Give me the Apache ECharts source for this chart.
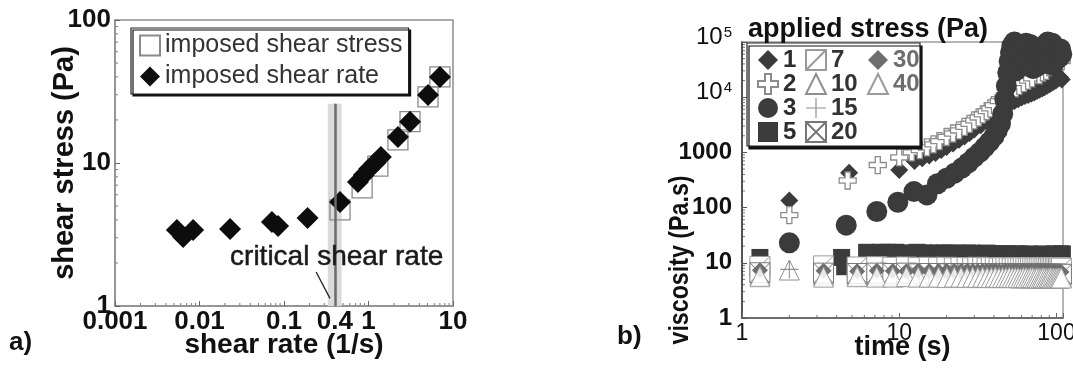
<!DOCTYPE html>
<html>
<head>
<meta charset="utf-8">
<script src="https://cdn.jsdelivr.net/npm/echarts@6/dist/echarts.min.js"></script>
<style>
  html, body { margin: 0; padding: 0; background: #fff; }
  #c { width: 1073px; height: 370px; }
</style>
</head>
<body>
<div id="c"></div>
<script>
// ---------- a) flow curve: shear stress vs shear rate ----------
const rateImposedX = [0.0054, 0.0064, 0.0084, 0.023, 0.072, 0.085, 0.19, 0.46, 0.75, 0.88, 1.02, 1.2, 1.4, 2.23, 3.1, 5.06, 7.0];
const rateImposedY = [3.4, 3.04, 3.4, 3.45, 3.87, 3.63, 4.12, 5.34, 7.37, 8.25, 9.1, 10.0, 11.0, 15.2, 19.4, 29.9, 39.9];
const stressImposedX = [0.46, 0.84, 1.29, 2.23, 3.1, 5.06, 7.0];
const stressImposedY = [4.7, 6.7, 9.5, 14.5, 19.5, 29, 40];
const criticalRate = 0.4;
const criticalBand = [0.33, 0.48];
const criticalTop = 26;
const rateTicks = ['0.001', '0.01', '0.1', '1', '10'];
const stressTicks = ['1', '10', '100'];

// ---------- b) viscosity vs time at applied stress ----------
const t1 = [2, 4.8, 10, 12.5, 14, 15.5, 17, 18.5, 20, 22, 24, 26, 28, 30, 33, 36, 39, 42, 45, 48, 51, 54, 57, 60, 63, 66, 69, 72, 75, 78, 81, 84, 87, 90, 93, 96, 99, 102, 105, 108];
const eta1 = [135, 430, 480, 700, 780, 880, 980, 1100, 1250, 1450, 1700, 1950, 2250, 2600, 3100, 3700, 4400, 5200, 6100, 7000, 7800, 8500, 9200, 9900, 10500, 11000, 11600, 12200, 12900, 13600, 14400, 15200, 16100, 17000, 18000, 19000, 20000, 21500, 23000, 21000];

const t2 = [2, 4.7, 7.3, 10, 12, 13.5, 15, 16.5, 18, 20, 22, 24, 26, 28, 30, 32, 34, 36, 38, 40, 43, 46, 49, 52, 55, 58, 62, 66, 70, 74, 78, 82, 86, 90, 95, 100, 104, 108];
const eta2 = [73, 310, 590, 810, 1000, 1100, 1230, 1400, 1600, 1900, 2200, 2500, 2900, 3300, 3800, 4300, 4900, 5600, 6300, 7200, 8500, 10000, 11500, 13000, 14500, 16000, 18000, 20000, 22000, 110000, 25000, 28000, 30000, 35000, 40000, 50000, 57000, 45000];

const t3 = [2, 4.6, 7.2, 9.8, 12.4, 15, 17.5, 20, 22.5, 25, 27.5, 30, 32.5, 35, 37.5, 40, 42, 44, 45.5, 47, 48, 49, 50, 51, 52, 54, 56, 58, 60, 62, 64, 66, 68, 70, 72, 74, 76, 78, 80, 82, 85, 88, 91, 94, 97, 100, 103, 106,
  55, 58, 62, 66, 71, 75, 80, 85, 90, 95, 100, 104, 108];
const eta3 = [23, 48, 85, 125, 195, 170, 270, 340, 420, 520, 650, 820, 1000, 1250, 1550, 1950, 2500, 3300, 5000, 9000, 16000, 28000, 45000, 65000, 85000, 100000, 90000, 75000, 60000, 80000, 95000, 105000, 90000, 75000, 65000, 55000, 48000, 52000, 60000, 75000, 90000, 100000, 110000, 95000, 80000, 70000, 60000, 75000,
  30000, 36000, 42000, 38000, 33000, 36000, 42000, 46000, 40000, 38000, 48000, 52000, 60000];

const t5 = [1.3, 4.3, 4.5, 6.2, 6.8, 7.6, 8.5, 9.5, 10.5, 11.7, 13, 14.4, 16, 17.6, 19.3, 21, 23, 25, 27, 29, 31, 33.5, 36, 38.5, 41, 43.5, 46, 49, 52, 55, 58, 61, 64, 67, 70, 73, 76, 79, 82, 85, 88, 91, 94, 97, 100, 103, 106, 109];
const eta5 = [12.5, 12.5, 8.5, 15.5, 10.5, 15.5, 15.5, 15.5, 15, 15, 15.5, 15, 15, 15, 15, 15, 15, 14.5, 15, 15, 14.5, 14.5, 15, 14.5, 14.5, 14.5, 14.5, 14.5, 14, 14.5, 14.5, 14, 14, 14.5, 14, 14, 14, 14, 14.5, 14, 14, 14, 14, 14.5, 14, 14, 14.5, 14.5];

const tFlat = [1.3, 3.3, 5.4, 7.2, 9.1, 11.1, 13.2, 15.5, 17.8, 20.1, 22.4, 24.7, 27, 29.3, 31.6, 33.9, 36.2, 38.5, 40.8, 43.1, 45.4, 47.7, 50, 52.3, 54.6, 56.9, 59.2, 61.5, 63.8, 66.1, 68.4, 70.7, 73, 75.3, 77.6, 79.9, 82.2, 84.5, 86.8, 89.1, 91.4, 93.7, 96, 98.3, 100.6, 102.9, 105.2, 107.5];
const tFlatB = [1.3, 2, 3.3, 5.4, 7.2, 9.1, 11.1, 13.2, 15.5, 17.8, 20.1, 22.4, 24.7, 27, 29.3, 31.6, 33.9, 36.2, 38.5, 40.8, 43.1, 45.4, 47.7, 50, 52.3, 54.6, 56.9, 59.2, 61.5, 63.8, 66.1, 68.4, 70.7, 73, 75.3, 77.6, 79.9, 82.2, 84.5, 86.8, 89.1, 91.4, 93.7, 96, 98.3, 100.6, 102.9, 105.2, 107.5];
const eta7 = [8.6, 8.8, 8.4, 8.5, 8.3, 8.4, 8.2, 8.3, 8.2, 8.3, 8.1, 8.2, 8.2, 8.1, 8.3, 8.2, 8.1, 8.2, 8.2, 8.0, 8.1, 8.2, 8.1, 8.0, 8.1, 8.1, 8.0, 8.2, 8.1, 8.0, 8.1, 8.1, 8.0, 8.1, 8.0, 8.2, 8.1, 8.0, 8.1, 8.0, 8.1, 8.0, 8.1, 8.0, 8.1, 8.0, 8.1, 8.0];
const eta10 = [5.9, 7.4, 6.0, 5.8, 5.9, 5.8, 5.8, 5.9, 5.8, 5.7, 5.8, 5.8, 5.7, 5.8, 5.7, 5.8, 5.7, 5.7, 5.8, 5.7, 5.7, 5.8, 5.7, 5.7, 5.6, 5.7, 5.7, 5.6, 5.7, 5.7, 5.6, 5.7, 5.6, 5.7, 5.6, 5.6, 5.7, 5.6, 5.6, 5.7, 5.6, 5.6, 5.6, 5.7, 5.6, 5.6, 5.6, 5.6, 5.5];
const eta15 = [6.6, 7.6, 6.6, 6.5, 6.6, 6.5, 6.5, 6.4, 6.5, 6.5, 6.4, 6.5, 6.4, 6.4, 6.5, 6.4, 6.4, 6.4, 6.3, 6.4, 6.4, 6.3, 6.4, 6.3, 6.3, 6.4, 6.3, 6.3, 6.3, 6.4, 6.3, 6.3, 6.2, 6.3, 6.3, 6.2, 6.3, 6.3, 6.2, 6.3, 6.2, 6.2, 6.3, 6.2, 6.2, 6.2, 6.3, 6.2, 6.2];
const eta20 = [6.6, 6.5, 6.4, 6.5, 6.4, 6.5, 6.3, 6.4, 6.4, 6.3, 6.4, 6.4, 6.3, 6.4, 6.3, 6.3, 6.4, 6.3, 6.3, 6.3, 6.2, 6.3, 6.3, 6.2, 6.3, 6.2, 6.3, 6.2, 6.2, 6.3, 6.2, 6.2, 6.2, 6.3, 6.2, 6.2, 6.2, 6.1, 6.2, 6.2, 6.2, 6.1, 6.2, 6.2, 6.1, 6.2, 6.1, 6.2];
const eta30 = [7.3, 7.2, 7.0, 7.2, 7.1, 7.0, 7.2, 7.1, 7.0, 7.1, 7.1, 7.0, 7.1, 7.0, 7.0, 7.1, 7.0, 7.0, 7.1, 7.0, 6.9, 7.0, 7.0, 6.9, 7.0, 7.0, 6.9, 7.0, 6.9, 6.9, 7.0, 6.9, 6.9, 7.0, 6.9, 6.9, 6.9, 7.0, 6.9, 6.9, 6.9, 6.8, 6.9, 6.9, 6.8, 6.9, 6.9, 6.8];
const eta40 = [5.6, 5.5, 5.6, 5.5, 5.5, 5.6, 5.5, 5.5, 5.5, 5.4, 5.5, 5.5, 5.4, 5.5, 5.4, 5.5, 5.4, 5.4, 5.5, 5.4, 5.4, 5.4, 5.5, 5.4, 5.4, 5.4, 5.3, 5.4, 5.4, 5.3, 5.4, 5.4, 5.3, 5.4, 5.3, 5.3, 5.4, 5.3, 5.3, 5.3, 5.4, 5.3, 5.3, 5.3, 5.3, 5.3, 5.3, 5.3];
const timeTicks = ['1', '10', '100'];
const viscosityTicks = ['1', '10', '100', '1000', '10^4', '10^5'];

// ---------- drawing ----------
const FONT = "'Liberation Sans', Arial, Helvetica, sans-serif";
const DARK = '#3b3b3b';
const OPEN = '#8c8c8c';

const SYM_CROSS = 'path://M7,0H13V7H20V13H13V20H7V13H0V7H7Z';
const SYM_PLUS = 'path://M9.4,0H10.6V9.4H20V10.6H10.6V20H9.4V10.6H0V9.4H9.4Z';
const SYM_BOX_DIAG = 'path://M0,0H20V20H0Z M0,20L20,0';
const SYM_BOX_X = 'path://M0,0H20V20H0Z M0,0L20,20 M20,0L0,20';

const zip = (xs, ys) => xs.map((x, i) => [x, ys[i]]).filter(p => p[1] != null);
const isDecade = v => Math.abs(Math.log10(v) - Math.round(Math.log10(v))) < 1e-6;

function pickTick(list, v, base) {
  if (!isDecade(v)) return '';
  const i = Math.round(Math.log10(v)) - base;
  return list[i] != null ? list[i] : '';
}

const chart = echarts.init(document.getElementById('c'), null, { renderer: 'canvas' });

const boldText = (size, color) => ({ fontSize: size, fontWeight: 'bold', color: color || '#111', fontFamily: FONT });

function scatterB(name, times, etas, symbol, size, fill, stroke, width) {
  return {
    name, type: 'scatter', xAxisIndex: 1, yAxisIndex: 1,
    data: zip(times, etas), symbol, symbolSize: size,
    itemStyle: { color: fill, borderColor: stroke, borderWidth: width, opacity: 1 },
    emphasis: { disabled: true }
  };
}

const option = {
  animation: false,
  backgroundColor: '#fff',
  textStyle: { fontFamily: FONT },
  grid: [
    { left: 115, top: 20, width: 338, height: 286, show: true, borderColor: '#8f8f8f', borderWidth: 1.5, outerBoundsMode: 'none', containLabel: false },
    { left: 742, top: 42, width: 321, height: 276, show: true, borderColor: '#9f9f9f', borderWidth: 1.5, outerBoundsMode: 'none', containLabel: false }
  ],
  xAxis: [
    {
      type: 'log', logBase: 10, gridIndex: 0, min: 0.001, max: 10, splitNumber: 4,
      axisLine: { lineStyle: { color: '#8f8f8f', width: 1.5 } },
      axisTick: { inside: true, length: 5, lineStyle: { color: '#666' } },
      splitLine: { show: false },
      axisLabel: { ...boldText(26), margin: 3, formatter: v => pickTick(rateTicks, v, -3) },
      name: 'shear rate (1/s)', nameLocation: 'middle', nameGap: 25, nameMoveOverlap: false, nameTextStyle: boldText(28)
    },
    {
      type: 'log', logBase: 10, gridIndex: 1, min: 1, max: 110, splitNumber: 2,
      axisLine: { lineStyle: { color: '#555', width: 1.5 } },
      axisTick: { inside: true, length: 5, lineStyle: { color: '#666' } },
      splitLine: { show: false },
      axisLabel: { ...boldText(23), fontWeight: 'normal', margin: 4, formatter: v => pickTick(timeTicks, v, 0) },
      name: 'time (s)', nameLocation: 'middle', nameGap: 16, nameMoveOverlap: false, nameTextStyle: boldText(27)
    }
  ],
  yAxis: [
    {
      type: 'log', logBase: 10, gridIndex: 0, min: 1, max: 100, splitNumber: 2,
      axisLine: { lineStyle: { color: '#8f8f8f', width: 1.5 } },
      axisTick: { inside: true, length: 5, lineStyle: { color: '#666' } },
      splitLine: { show: false },
      axisLabel: { ...boldText(26), margin: 4, formatter: v => pickTick(stressTicks, v, 0) },
      name: 'shear stress (Pa)', nameLocation: 'middle', nameGap: 36, nameRotate: 90, nameMoveOverlap: false, nameTextStyle: boldText(29)
    },
    {
      type: 'log', logBase: 10, gridIndex: 1, min: 1, max: 100000, splitNumber: 5,
      axisLine: { lineStyle: { color: '#333', width: 1.5 } },
      axisTick: { inside: true, length: 5, lineStyle: { color: '#555' } },
      splitLine: { show: false },
      axisLabel: {
        ...boldText(24), margin: 10,
        formatter: v => {
          const s = pickTick(viscosityTicks, v, 0);
          if (s.indexOf('^') > 0) {
            const [b, e] = s.split('^');
            return '{n|' + b + '}{e|' + e + '}';
          }
          return s;
        },
        rich: {
          n: { ...boldText(24), fontWeight: 'normal', padding: [0, 0, 10, 0] },
          e: { ...boldText(15), fontWeight: 'normal', verticalAlign: 'top', padding: [0, 0, 14, 1] }
        }
      }
    }
  ],
  legend: [
    {
      data: ['imposed shear stress', 'imposed shear rate'],
      orient: 'vertical', left: 131, top: 28, padding: [5, 6, 5, 8], itemGap: 6,
      itemWidth: 20, itemHeight: 20,
      backgroundColor: '#fff', borderColor: '#222', borderWidth: 1.2,
      shadowColor: '#111', shadowBlur: 0, shadowOffsetX: 2, shadowOffsetY: 2,
      textStyle: { fontSize: 25, color: '#333', fontFamily: FONT, lineHeight: 24 },
      selectedMode: false, z: 6
    },
    {
      data: ['1', '2', '3', '5'].map(n => ({ name: n })),
      orient: 'vertical', left: 752, top: 43, itemGap: 0, itemWidth: 20, itemHeight: 20,
      textStyle: { ...boldText(24, '#2e2e2e'), lineHeight: 20 },
      selectedMode: false, z: 6
    },
    {
      data: ['7', '10', '15', '20'].map(n => ({ name: n })),
      orient: 'vertical', left: 800, top: 43, itemGap: 0, itemWidth: 20, itemHeight: 20,
      textStyle: { ...boldText(24, '#333'), lineHeight: 20 },
      selectedMode: false, z: 6
    },
    {
      data: ['30', '40'].map(n => ({ name: n })),
      orient: 'vertical', left: 862, top: 43, itemGap: 0, itemWidth: 20, itemHeight: 20,
      textStyle: { ...boldText(24, '#6e6e6e'), lineHeight: 20 },
      selectedMode: false, z: 6
    }
  ],
  series: [
    {
      name: 'imposed shear stress', type: 'scatter', xAxisIndex: 0, yAxisIndex: 0,
      data: zip(stressImposedX, stressImposedY), symbol: 'rect', symbolSize: 20,
      itemStyle: { color: 'rgba(255,255,255,0)', borderColor: '#8a8a8a', borderWidth: 1.3, opacity: 1 },
      emphasis: { disabled: true },
      markArea: {
        silent: true, itemStyle: { color: '#dadada' },
        data: [[{ coord: [criticalBand[0], 1] }, { coord: [criticalBand[1], criticalTop] }]]
      },
      markLine: {
        silent: true, symbol: 'none', label: { show: false },
        lineStyle: { color: '#6a6a6a', width: 2.5, type: 'solid' },
        data: [[{ coord: [criticalRate, 1] }, { coord: [criticalRate, criticalTop] }]]
      }
    },
    {
      name: 'imposed shear rate', type: 'scatter', xAxisIndex: 0, yAxisIndex: 0,
      data: zip(rateImposedX, rateImposedY), symbol: 'diamond', symbolSize: [22, 22],
      itemStyle: { color: '#0d0d0d', opacity: 1 },
      emphasis: { disabled: true },
      markLine: {
        silent: true, symbol: ['none', 'arrow'], symbolSize: [0, 8], label: { show: false },
        lineStyle: { color: '#222', width: 1.3, type: 'solid' },
        data: [[{ coord: [0.24, 1.73] }, { coord: [0.35, 1.13] }]]
      }
    },
    scatterB('1', t1, eta1, 'diamond', 18, DARK, DARK, 0),
    scatterB('2', t2, eta2, SYM_CROSS, 17, '#fff', OPEN, 1.3),
    scatterB('3', t3, eta3, 'circle', 21, DARK, DARK, 0),
    scatterB('5', t5, eta5, 'rect', 17, DARK, DARK, 0),
    scatterB('7', tFlat, eta7, SYM_BOX_DIAG, 20, '#fff', '#9a9a9a', 1),
    scatterB('10', tFlatB, eta10, 'triangle', 20, 'rgba(255,255,255,0)', '#8f8f8f', 1),
    scatterB('15', tFlatB, eta15, SYM_PLUS, 18, '#8f8f8f', '#8f8f8f', 0),
    scatterB('20', tFlat, eta20, SYM_BOX_X, 20, '#fff', '#777', 1),
    scatterB('30', tFlat, eta30, 'diamond', 16, '#6e6e6e', '#6e6e6e', 0),
    scatterB('40', tFlat, eta40, 'triangle', 20, 'rgba(255,255,255,0.85)', '#9a9a9a', 1)
  ]
};

chart.setOption(option);

// Extra annotations and minor log ticks placed through the axes' own scales
const px = (g, x, y) => chart.convertToPixel({ xAxisIndex: g, yAxisIndex: g }, [x, y]);
const graphics = [];

function minorTicks(g, xr, yr) {
  const [x0, y0] = px(g, xr[0], yr[0]);
  for (let e = Math.floor(Math.log10(xr[0])); e < Math.log10(xr[1]); e++) {
    for (let k = 2; k <= 9; k++) {
      const v = k * Math.pow(10, e);
      if (v <= xr[0] || v >= xr[1]) continue;
      const x = px(g, v, yr[0])[0];
      graphics.push({ type: 'line', shape: { x1: x, y1: y0, x2: x, y2: y0 - 3 }, style: { stroke: '#777', lineWidth: 1 }, silent: true });
    }
  }
  for (let e = Math.floor(Math.log10(yr[0])); e < Math.log10(yr[1]); e++) {
    for (let k = 2; k <= 9; k++) {
      const v = k * Math.pow(10, e);
      if (v <= yr[0] || v >= yr[1]) continue;
      const y = px(g, xr[0], v)[1];
      graphics.push({ type: 'line', shape: { x1: x0, y1: y, x2: x0 + 3, y2: y }, style: { stroke: '#777', lineWidth: 1 }, silent: true });
    }
  }
}
minorTicks(0, [0.001, 10], [1, 100]);
minorTicks(1, [1, 110], [1, 100000]);

// "0.4" label under the critical rate line
const pCrit = px(0, criticalRate, 1);
graphics.push({ type: 'text', x: pCrit[0], y: pCrit[1] + 16, silent: true,
  style: { text: '0.4', font: 'bold 26px ' + FONT, fill: '#111', align: 'center', verticalAlign: 'middle' } });

// "critical shear rate" annotation
const pNote = px(0, 0.42, 2.2);
graphics.push({ type: 'text', x: pNote[0], y: pNote[1], silent: true, z: 10,
  style: { text: 'critical shear rate', font: '28px ' + FONT, fill: '#1a1a1a', align: 'center', verticalAlign: 'middle', stroke: '#1a1a1a', lineWidth: 0.5 } });

// Panel letters
graphics.push({ type: 'text', x: 9, y: 343, silent: true,
  style: { text: 'a)', font: 'bold 26px ' + FONT, fill: '#111', verticalAlign: 'middle' } });
graphics.push({ type: 'text', x: 617, y: 337, silent: true,
  style: { text: 'b)', font: 'bold 26px ' + FONT, fill: '#111', verticalAlign: 'middle' } });

// b) legend heading and framed box
graphics.push({ type: 'text', x: 748, y: 30, silent: true, z: 10,
  style: { text: 'applied stress (Pa)', font: 'bold 27px ' + FONT, fill: '#111', verticalAlign: 'middle' } });
graphics.push({ type: 'rect', shape: { x: 747, y: 43, width: 173, height: 103 }, silent: true, z: 3,
  style: { fill: '#fff', stroke: '#222', lineWidth: 1.2, shadowColor: '#111', shadowBlur: 0, shadowOffsetX: 2, shadowOffsetY: 3 } });

// b) vertical axis title (narrow setting)
graphics.push({ type: 'text', x: 681, y: 260, rotation: Math.PI / 2, scaleX: 0.86, silent: true,
  style: { text: 'viscosity (Pa.s)', font: 'bold 27px ' + FONT, fill: '#111', align: 'center', verticalAlign: 'middle' } });

chart.setOption({ graphic: { elements: graphics } });
</script>
</body>
</html>
